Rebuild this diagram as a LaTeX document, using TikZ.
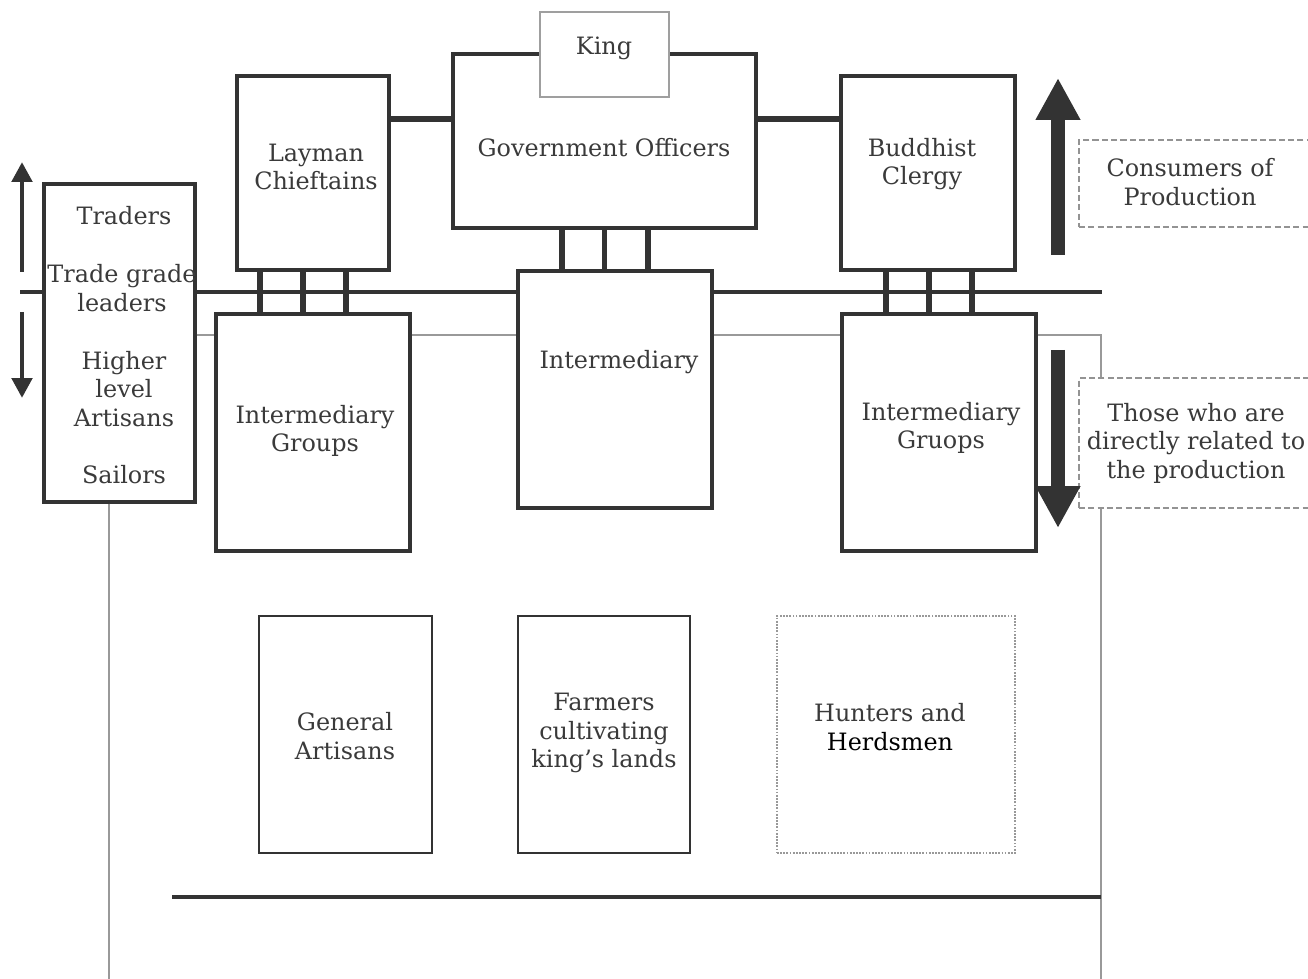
\documentclass[tikz,border=0pt]{standalone}
\usepackage{fontspec}
\setmainfont{DejaVu Serif}
\usetikzlibrary{fit,arrows.meta}
\definecolor{ink}{HTML}{333333}
\definecolor{txt}{HTML}{3A3A3A}
\tikzset{
  heavybox/.style={draw=ink, line width=2.6pt, inner sep=0pt},
  midbox/.style={draw=ink, line width=1.8pt, inner sep=0pt},
  kingbox/.style={draw=gray!75, line width=1pt, fill=white, inner sep=0pt},
  dashbox/.style={draw=gray!85, line width=1.1pt, dash pattern=on 3.5pt off 1.8pt, fill=white, inner sep=0pt},
  dotbox/.style={draw=gray!80, line width=1.5pt, dash pattern=on 1pt off 0.8pt, inner sep=0pt},
  lbl/.style={text=txt, font=\fontsize{13.6}{16.2}\selectfont, align=center, inner sep=0pt},
  bar/.style={draw=ink, line width=3.4pt},
  hline/.style={draw=ink, line width=2.3pt},
  joinline/.style={draw=ink, line width=3.2pt},
  thinline/.style={draw=gray!80, line width=1.1pt},
  bigarrow/.style={draw=ink, line width=0.28cm, -{Triangle[width=0.84cm,length=0.84cm]}},
  smallarrow/.style={draw=ink, line width=0.1cm, -{Triangle[width=0.4cm,length=0.4cm]}},
}
\begin{document}
\begin{tikzpicture}[x=0.02cm,y=-0.02cm]
\useasboundingbox (0,0) rectangle (1308,979);

% helper coordinates
\coordinate (yA) at (0,119);
\coordinate (yMain) at (0,292);
\coordinate (yThin) at (0,335);
\coordinate (mainL) at (20,292);
\coordinate (mainR) at (1102,292);
\coordinate (thinCorner) at (1101,335);
\coordinate (thinBottom) at (1101,979);
\coordinate (leftBottom) at (109,979);
\coordinate (botL) at (172,897);
\coordinate (botR) at (1101,897);

% boxes
\node[midbox, fit={(453,54) (756,228)}] (gov) {};
\node[kingbox, fit={(540,12) (669,97)}] (king) {};
\node[heavybox, fit={(237,76) (389,270)}] (lay) {};
\node[heavybox, fit={(841,76) (1015,270)}] (bud) {};
\node[midbox, fit={(44,184) (195,502)}] (tr) {};
\node[midbox, fit={(216,314) (410,551)}] (ig) {};
\node[midbox, fit={(518,271) (712,508)}] (int) {};
\node[midbox, fit={(842,314) (1036,551)}] (igr) {};
\node[midbox, line width=1.5pt, fit={(259,616) (432,853)}] (gen) {};
\node[midbox, line width=1.5pt, fit={(518,616) (690,853)}] (farm) {};
\node[dotbox, fit={(777,616) (1015,853)}] (hunt) {};

% connectors top
\draw[joinline] (lay.east |- yA) -- (gov.west |- yA);
\draw[joinline] (gov.east |- yA) -- (bud.west |- yA);
\foreach \o in {-0.85,0,0.87} \draw[bar] ([xshift=\o cm]gov.south) -- ([xshift=\o cm]gov.south |- int.north);
\foreach \o in {-1.06,-0.2,0.66} \draw[bar] ([xshift=\o cm]lay.south) -- ([xshift=\o cm]lay.south |- ig.north);
\foreach \o in {-0.84,0.02,0.88} \draw[bar] ([xshift=\o cm]bud.south) -- ([xshift=\o cm]bud.south |- igr.north);

% main horizontal line
\draw[hline] (mainL) -- (tr.west |- yMain);
\draw[hline] (tr.east |- yMain) -- (int.west |- yMain);
\draw[hline] (int.east |- yMain) -- (mainR);

% thin grey line
\draw[thinline] (tr.east |- yThin) -- (ig.west |- yThin);
\draw[thinline] (ig.east |- yThin) -- (int.west |- yThin);
\draw[thinline] (int.east |- yThin) -- (igr.west |- yThin);
\draw[thinline] (igr.east |- yThin) -- (thinCorner) -- (thinBottom);
\draw[thinline] ([xshift=-0.21cm]tr.south) -- ([xshift=-0.21cm]tr.south |- leftBottom);

% bottom line
\draw[hline, line width=2.6pt] (botL) -- (botR);

% dashed side boxes
\node[dashbox, fit={(1079,140) (1320,227)}] (cons) {};
\node[dashbox, fit={(1079,378) (1320,508)}] (those) {};

% arrows
\coordinate (upS) at (1058,255); \coordinate (upE) at (1058,78);
\coordinate (dnS) at (1058,350); \coordinate (dnE) at (1058,528);
\coordinate (lupS) at (22,272); \coordinate (lupE) at (22,162);
\coordinate (ldnS) at (22,312); \coordinate (ldnE) at (22,398);
\draw[bigarrow] (upS) -- (upE);
\draw[bigarrow] (dnS) -- (dnE);
\draw[smallarrow] (lupS) -- (lupE);
\draw[smallarrow] (ldnS) -- (ldnE);

% labels
\node[lbl] (tking) at (604,48) {King};
\node[lbl] (tgov) at (604,148) {Government Officers};
\node[lbl] (tlay) at (316,167) {Layman\\Chieftains};
\node[lbl] (tbud) at (922,164) {Buddhist\\Clergy};
\node[lbl] (ttr1) at (124,216) {Traders};
\node[lbl] (ttr2) at (122,288) {Trade grade\\leaders};
\node[lbl] (ttr3) at (124,389) {Higher\\level\\Artisans};
\node[lbl] (ttr4) at (124,475) {Sailors};
\node[lbl] (tig) at (315,431) {Intermediary\\Groups};
\node[lbl] (tint) at (619,362) {Intermediary};
\node[lbl] (tigr) at (941,428) {Intermediary\\Gruops};
\node[lbl] (tgen) at (345,736) {General\\Artisans};
\node[lbl] (tfarm) at (604,733) {Farmers\\cultivating\\king’s lands};
\node[lbl] (thunt) at (890,727) {Hunters and\\\textcolor{black}{Herdsmen}};
\node[lbl] (tcons) at (1190,182) {Consumers of\\Production};
\node[lbl] (tthose) at (1196,443) {Those who are\\directly related to\\the production};
\end{tikzpicture}
\end{document}
